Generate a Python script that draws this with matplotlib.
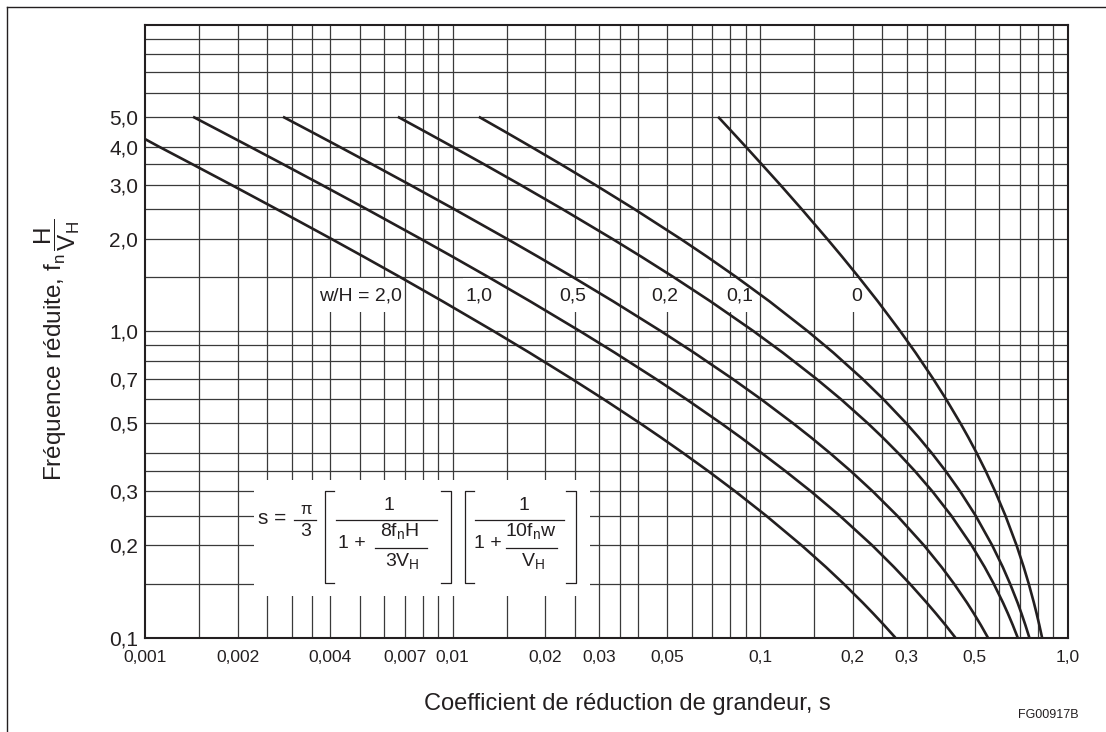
import matplotlib
matplotlib.use('Agg')
import matplotlib.pyplot as plt
from matplotlib.patches import Rectangle
from matplotlib.lines import Line2D
from matplotlib.transforms import Affine2D

plt.rcParams['font.family'] = ['Liberation Sans', 'DejaVu Sans']
plt.rcParams['mathtext.fontset'] = 'custom'
plt.rcParams['mathtext.rm'] = 'Liberation Sans'
plt.rcParams['mathtext.it'] = 'Liberation Sans'
plt.rcParams['mathtext.bf'] = 'Liberation Sans:bold'

# reduced frequency f_n H / V_H where the curves were read
freq = [5.0, 4.5, 4.0, 3.5, 3.0, 2.5, 2.0, 1.75, 1.5, 1.25, 1.0, 0.85, 0.7, 0.6,
        0.5, 0.45, 0.4, 0.35, 0.3, 0.25, 0.2, 0.17, 0.15, 0.13, 0.12, 0.11, 0.1]
freq_w2 = [4.23, 4.0, 3.5, 3.0, 2.5, 2.0, 1.75, 1.5, 1.25, 1.0, 0.85, 0.7, 0.6,
           0.5, 0.45, 0.4, 0.35, 0.3, 0.25, 0.2, 0.17, 0.15, 0.13, 0.12, 0.11, 0.1]

# size reduction coefficient s for each w/H
s_w2 = [0.001, 0.001108, 0.001427, 0.001908, 0.002678, 0.004033, 0.005133, 0.006756,
        0.009295, 0.0136, 0.01781, 0.02435, 0.03098, 0.0408, 0.0476, 0.0563, 0.06771,
        0.08311, 0.1047, 0.1366, 0.1638, 0.187, 0.216, 0.2333, 0.253, 0.2756]
s_w1 = [0.001433, 0.001751, 0.002189, 0.002815, 0.003753, 0.005254, 0.007874, 0.009989,
        0.01309, 0.0179, 0.02596, 0.03374, 0.04566, 0.05754, 0.0748, 0.08655, 0.1013,
        0.1207, 0.1465, 0.1817, 0.2318, 0.2727, 0.307, 0.3486, 0.3732, 0.401, 0.432]
s_w05 = [0.00281, 0.003428, 0.004274, 0.005478, 0.007272, 0.01012, 0.01503, 0.01895,
         0.02464, 0.03333, 0.0476, 0.06106, 0.08118, 0.1007, 0.1282, 0.1465, 0.1689,
         0.197, 0.2327, 0.2793, 0.3415, 0.3895, 0.4274, 0.4713, 0.4958, 0.5224, 0.5512]
s_w02 = [0.006642, 0.008055, 0.009973, 0.01267, 0.01662, 0.02277, 0.03307, 0.04107,
         0.05236, 0.06905, 0.0952, 0.1187, 0.1522, 0.1831, 0.2244, 0.2505, 0.2815,
         0.3186, 0.3636, 0.4189, 0.4878, 0.5377, 0.5754, 0.6172, 0.6398, 0.6637, 0.6889]
s_w01 = [0.01218, 0.01465, 0.01795, 0.02252, 0.02909, 0.03903, 0.05512, 0.0672,
         0.08378, 0.1074, 0.1428, 0.1733, 0.2149, 0.2517, 0.2992, 0.3283, 0.3619,
         0.4012, 0.4475, 0.5027, 0.5691, 0.6159, 0.6504, 0.6882, 0.7083, 0.7294, 0.7516]
s_w0 = [0.07306, 0.08055, 0.08976, 0.1013, 0.1164, 0.1366, 0.1653, 0.1848, 0.2094,
        0.2417, 0.2856, 0.3206, 0.3653, 0.4028, 0.4488, 0.476, 0.5067, 0.5417, 0.5818,
        0.6283, 0.683, 0.7205, 0.748, 0.7776, 0.7933, 0.8097, 0.8267]

curve_labels = ['w/H = 2,0', '1,0', '0,5', '0,2', '0,1', '0']
label_s = [0.00501, 0.01217, 0.0246, 0.0489, 0.0857, 0.2067]

xticks = [0.001, 0.002, 0.004, 0.007, 0.01, 0.02, 0.03, 0.05, 0.1, 0.2, 0.3, 0.5, 1.0]
xticklabels = ['0,001', '0,002', '0,004', '0,007', '0,01', '0,02', '0,03', '0,05',
               '0,1', '0,2', '0,3', '0,5', '1,0']
yticks = [0.1, 0.2, 0.3, 0.5, 0.7, 1.0, 2.0, 3.0, 4.0, 5.0]
yticklabels = ['0,1', '0,2', '0,3', '0,5', '0,7', '1,0', '2,0', '3,0', '4,0', '5,0']
grid_mult = [1, 1.5, 2, 2.5, 3, 3.5, 4, 5, 6, 7, 8, 9]

ink = '#231f20'
W, H = 1106, 732
fig = plt.figure(figsize=(W / 100, H / 100), dpi=100)
# pixel coordinates measured from the top left corner
pix = Affine2D().scale(1 / W, -1 / H).translate(0, 1) + fig.transFigure

ax = fig.add_axes([145 / W, 1 - 637.7 / H, 922.5 / W, 613.2 / H])
ax.set_xscale('log')
ax.set_yscale('log')
ax.set_xlim(0.001, 1.0)
ax.set_ylim(0.1, 10.0)

xgrid = [m * d for d in (0.001, 0.01, 0.1) for m in grid_mult][1:]
ygrid = [m * d for d in (0.1, 1.0) for m in grid_mult][1:]
ax.vlines(xgrid, 0.1, 10.0, colors='#3a3a3a', lw=0.9, zorder=1)
ax.hlines(ygrid, 0.001, 1.0, colors='#3a3a3a', lw=0.9, zorder=1)

# white area behind the formula
ax.add_patch(Rectangle((0.00227, 0.137), 0.0281 - 0.00227, 0.328 - 0.137,
                       fc='white', ec='none', zorder=1.5))

series = [(s_w2, freq_w2), (s_w1, freq), (s_w05, freq), (s_w02, freq), (s_w01, freq), (s_w0, freq)]
for xs, ys in series:
    ax.plot(xs, ys, color=ink, lw=1.9, zorder=3, solid_capstyle='butt',
            solid_joinstyle='round')

texts = []
for lab, sx in zip(curve_labels, label_s):
    texts.append(ax.text(sx, 1.3, lab, ha='center', va='center', fontsize=14,
                         color=ink, zorder=2.5))

ax.set_xticks(xticks)
ax.set_xticklabels(xticklabels, fontsize=12.5)
ax.set_yticks(yticks)
ax.set_yticklabels(yticklabels, fontsize=15)
ax.minorticks_off()
ax.tick_params(length=0, colors=ink)
ax.tick_params(axis='x', pad=9)
ax.tick_params(axis='y', pad=5)
for sp in ax.spines.values():
    sp.set_linewidth(1.5)
    sp.set_color(ink)
    sp.set_zorder(4)


def ftext(x, y, s, size=14):
    fig.text(x, y, s, ha='center', va='center', fontsize=size, color=ink, transform=pix)


def fline(xs, ys, lw=0.9):
    fig.add_artist(Line2D(xs, ys, color=ink, lw=lw, transform=pix))


# formula  s = pi/3 [1 / (1 + 8fnH/3VH)] [1 / (1 + 10fnw/VH)]
ftext(272, 518, 's =', 15)
ftext(306, 509, r'$\pi$', 12)
fline([294, 316], [519.5, 519.5])
ftext(306, 532, '3')
fline([334, 324.5, 324.5, 334], [491, 491, 583, 583])
fline([441, 451, 451, 441], [491, 491, 583, 583])
ftext(389, 506, '1')
fline([336, 437], [519.5, 519.5])
ftext(352, 543, '1 +')
ftext(399, 531, r'$8f_nH$')
fline([375, 427], [547.5, 547.5])
ftext(402, 561, r'$3V_H$')
fline([474, 464.5, 464.5, 474], [491, 491, 583, 583])
fline([566, 575.5, 575.5, 566], [491, 491, 583, 583])
ftext(524, 506, '1')
fline([475, 564], [519.5, 519.5])
ftext(488, 543, '1 +')
ftext(531, 531, r'$10f_nw$')
fline([506, 557], [547.5, 547.5])
ftext(533, 561, r'$V_H$')

fig.text(627 / W, 1 - 704 / H, 'Coefficient de réduction de grandeur, s',
         ha='center', va='center', fontsize=17, color=ink)
fig.text(57 / W, 1 - 350 / H,
         r'Fréquence réduite, $\mathregular{f_n\,\dfrac{H}{V_H}}$',
         rotation=90, ha='center', va='center', fontsize=17.5, color=ink)
fig.text(1048 / W, 1 - 715 / H, 'FG00917B', ha='center', va='center',
         fontsize=9, color=ink)

# frame round the drawing (only top and left edges are visible)
fline([7, W], [7.3, 7.3], lw=1.0)
fline([7, 7], [7.3, H], lw=1.0)

# white gaps in the grid behind the curve labels
fig.canvas.draw()
inv = ax.transData.inverted()
for t in texts:
    bb = t.get_window_extent()
    x0 = inv.transform((bb.x0 - 2, 0))[0]
    x1 = inv.transform((bb.x1 + 2, 0))[0]
    ax.add_patch(Rectangle((x0, 1.15), x1 - x0, 0.34, fc='white', ec='none',
                           zorder=1.5))

fig.savefig('out.png', dpi=100)
